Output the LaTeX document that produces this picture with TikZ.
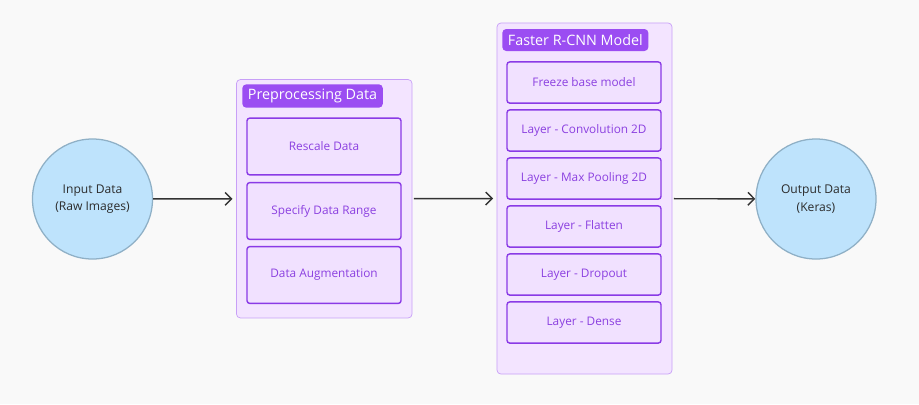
\documentclass[tikz,border=0pt]{standalone}
\usepackage{fontspec}
\setmainfont{Open Sans}
\usepackage{tikz}
\usetikzlibrary{arrows.meta,positioning}
\definecolor{PageBack}{HTML}{F9F9F9}
\definecolor{DataFill}{HTML}{BEE3FC}
\definecolor{DataEdge}{HTML}{8FB0C6}
\definecolor{DataInk}{HTML}{2B2B2B}
\definecolor{GroupFill}{HTML}{F3E4FF}
\definecolor{GroupEdge}{HTML}{C8A0F7}
\definecolor{StepFill}{HTML}{F1E1FF}
\definecolor{StepEdge}{HTML}{8A3AE6}
\definecolor{StepInk}{HTML}{8B40E0}
\definecolor{TagFill}{HTML}{9B4DF2}
\definecolor{FlowInk}{HTML}{333333}
\tikzset{
  figure/.style={x=0.025cm,y=-0.025cm,font=\fontsize{8.4}{10}\selectfont},
  datacircle/.style={circle,draw=DataEdge,line width=0.9pt,fill=DataFill,
    minimum size=3.0cm,inner sep=0pt,align=center,text=DataInk,font=\fontsize{8.6}{12.5}\selectfont},
  group/.style={draw=GroupEdge,line width=0.5pt,rounded corners=1mm,fill=GroupFill},
  grouptag/.style={fill=TagFill,text=white,rounded corners=1mm,inner xsep=4pt,
    minimum height=0.55cm,font=\fontsize{10.2}{12}\selectfont},
  stepbox/.style={draw=StepEdge,line width=1pt,rounded corners=0.7mm,fill=StepFill,
    text=StepInk,minimum width=3.85cm,align=center},
  flow/.style={-{Straight Barb[length=1.6mm,width=3.2mm]},line width=1pt,draw=FlowInk},
}
\begin{document}
\begin{tikzpicture}[figure]
  \fill[PageBack] (0,0) rectangle (919,404);

  \node[datacircle] (input) at (92.5,199) {Input Data\\(Raw Images)};
  \node[datacircle] (output) at (816,199) {Output Data\\(Keras)};

  % preprocessing group
  \node[group,minimum width=4.39cm,minimum height=5.96cm] (pre) at (324.25,198.75) {};
  \node[grouptag,anchor=west] (pretag) at (242,96) {Preprocessing Data};
  \node[stepbox,minimum height=1.42cm] (rescale) at (324,146.5) {Rescale Data};
  \node[stepbox,minimum height=1.42cm] (range) at (324,211) {Specify Data Range};
  \node[stepbox,minimum height=1.42cm] (augment) at (324,275) {Data Augmentation};

  % model group
  \node[group,minimum width=4.375cm,minimum height=8.775cm] (model) at (584.5,198.5) {};
  \node[grouptag,anchor=west] (modeltag) at (502,40) {Faster R-CNN Model};
  \node[stepbox,minimum height=1.03cm] (freeze) at (584,82.5) {Freeze base model};
  \node[stepbox,minimum height=1.03cm] (conv) at (584,130.5) {Layer - Convolution 2D};
  \node[stepbox,minimum height=1.03cm] (pool) at (584,178.5) {Layer - Max Pooling 2D};
  \node[stepbox,minimum height=1.03cm] (flat) at (584,226.5) {Layer - Flatten};
  \node[stepbox,minimum height=1.03cm] (drop) at (584,274.5) {Layer - Dropout};
  \node[stepbox,minimum height=1.03cm] (dense) at (584,322.5) {Layer - Dense};

  \draw[flow,shorten >=2.5pt] (input) -- (pre);
  \draw[flow,shorten <=1pt,shorten >=2.5pt] (pre) -- (model);
  \draw[flow,shorten <=1pt] (model) -- (output);
\end{tikzpicture}
\end{document}
